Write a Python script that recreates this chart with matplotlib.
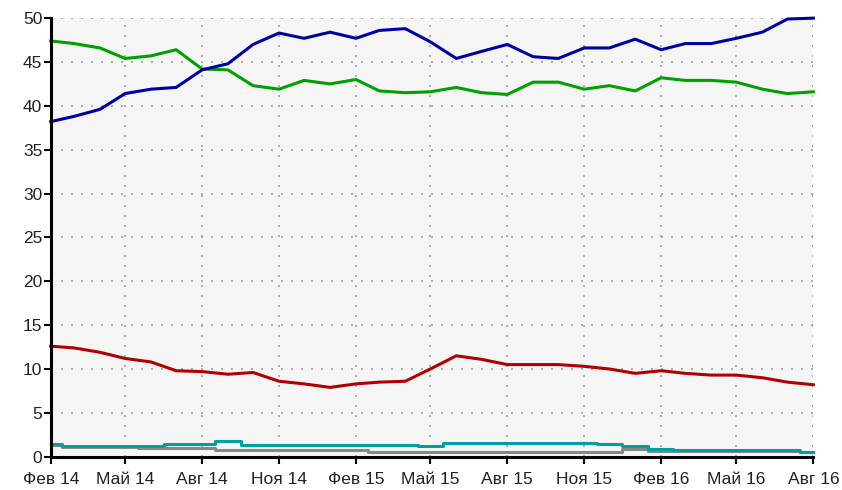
import pandas as pd
import numpy as np
import matplotlib
matplotlib.use("Agg")
import matplotlib.pyplot as plt

plt.rcParams['font.family'] = ['Liberation Sans', 'DejaVu Sans']

months = pd.date_range("2014-02-01", "2016-08-01", freq="MS")

blueSeries = [38.2, 38.8, 39.6, 41.4, 41.9, 42.1, 44.1, 44.8, 47.0, 48.3,
              47.7, 48.4, 47.7, 48.6, 48.8, 47.3, 45.4, 46.2, 47.0, 45.6,
              45.4, 46.6, 46.6, 47.6, 46.4, 47.1, 47.1, 47.7, 48.4, 49.9, 50.0]
greenSeries = [47.4, 47.1, 46.6, 45.4, 45.7, 46.4, 44.2, 44.1, 42.3, 41.9,
               42.9, 42.5, 43.0, 41.7, 41.5, 41.6, 42.1, 41.5, 41.3, 42.7,
               42.7, 41.9, 42.3, 41.7, 43.2, 42.9, 42.9, 42.7, 41.9, 41.4, 41.6]
redSeries = [12.6, 12.4, 11.9, 11.2, 10.8, 9.8, 9.7, 9.4, 9.6, 8.6,
             8.3, 7.9, 8.3, 8.5, 8.6, 10.0, 11.5, 11.1, 10.5, 10.5,
             10.5, 10.3, 10.0, 9.5, 9.8, 9.5, 9.3, 9.3, 9.0, 8.5, 8.2]
tealSeries = [1.5, 1.26, 1.26, 1.26, 1.26, 1.5, 1.5, 1.75, 1.3, 1.3,
              1.3, 1.3, 1.3, 1.3, 1.3, 1.26, 1.55, 1.55, 1.55, 1.55,
              1.55, 1.55, 1.5, 1.26, 0.9, 0.76, 0.76, 0.76, 0.76, 0.76, 0.55]
graySeries = [1.3, 1.15, 1.15, 1.15, 0.95, 0.95, 0.95, 0.73, 0.73, 0.73,
              0.73, 0.73, 0.73, 0.53, 0.53, 0.53, 0.53, 0.53, 0.53, 0.53,
              0.53, 0.53, 0.53, 0.9, 0.65, 0.6, 0.6, 0.6, 0.6, 0.6, 0.55]

tickDates = pd.date_range("2014-02-01", "2016-08-01", freq="3MS")
tickLabels = ["Фев 14", "Май 14", "Авг 14", "Ноя 14", "Фев 15", "Май 15",
              "Авг 15", "Ноя 15", "Фев 16", "Май 16", "Авг 16"]
yTicks = list(range(0, 51, 5))

fig = plt.figure(figsize=(8.42, 4.9), dpi=100)
ax = fig.add_axes([0.0602, 0.068, 0.9058, 0.895])
ax.set_facecolor("#f5f5f5")

# draw order: small ones first, main lines on top
ax.plot(months, graySeries, color="#888888", lw=2.2, drawstyle="steps-mid", clip_on=False)
ax.plot(months, tealSeries, color="#00a0a0", lw=2.2, drawstyle="steps-mid", clip_on=False)
ax.plot(months, redSeries, color="#b00000", lw=2.2, clip_on=False)
ax.plot(months, greenSeries, color="#00a000", lw=2.2, clip_on=False)
ax.plot(months, blueSeries, color="#0000a0", lw=2.2, clip_on=False)

ax.set_xlim(months[0], months[-1])
ax.set_ylim(0, 50)
ax.set_xticks(tickDates)
ax.set_xticklabels(tickLabels)
ax.set_yticks(yTicks)

ax.grid(True, color="#a0a0a0", linestyle=(0, (1.2, 4.8)), linewidth=1.2)
for side in ["top", "right"]:
    ax.spines[side].set_visible(False)
for side in ["left", "bottom"]:
    ax.spines[side].set_linewidth(2.2)
    ax.spines[side].set_color("black")

ax.tick_params(axis="both", labelsize=12.5, labelcolor="#222222", colors="black", width=1.5, length=5)
ax.tick_params(axis="x", pad=6)
ax.tick_params(axis="y", pad=1)

fig.savefig("out.png", dpi=100)
